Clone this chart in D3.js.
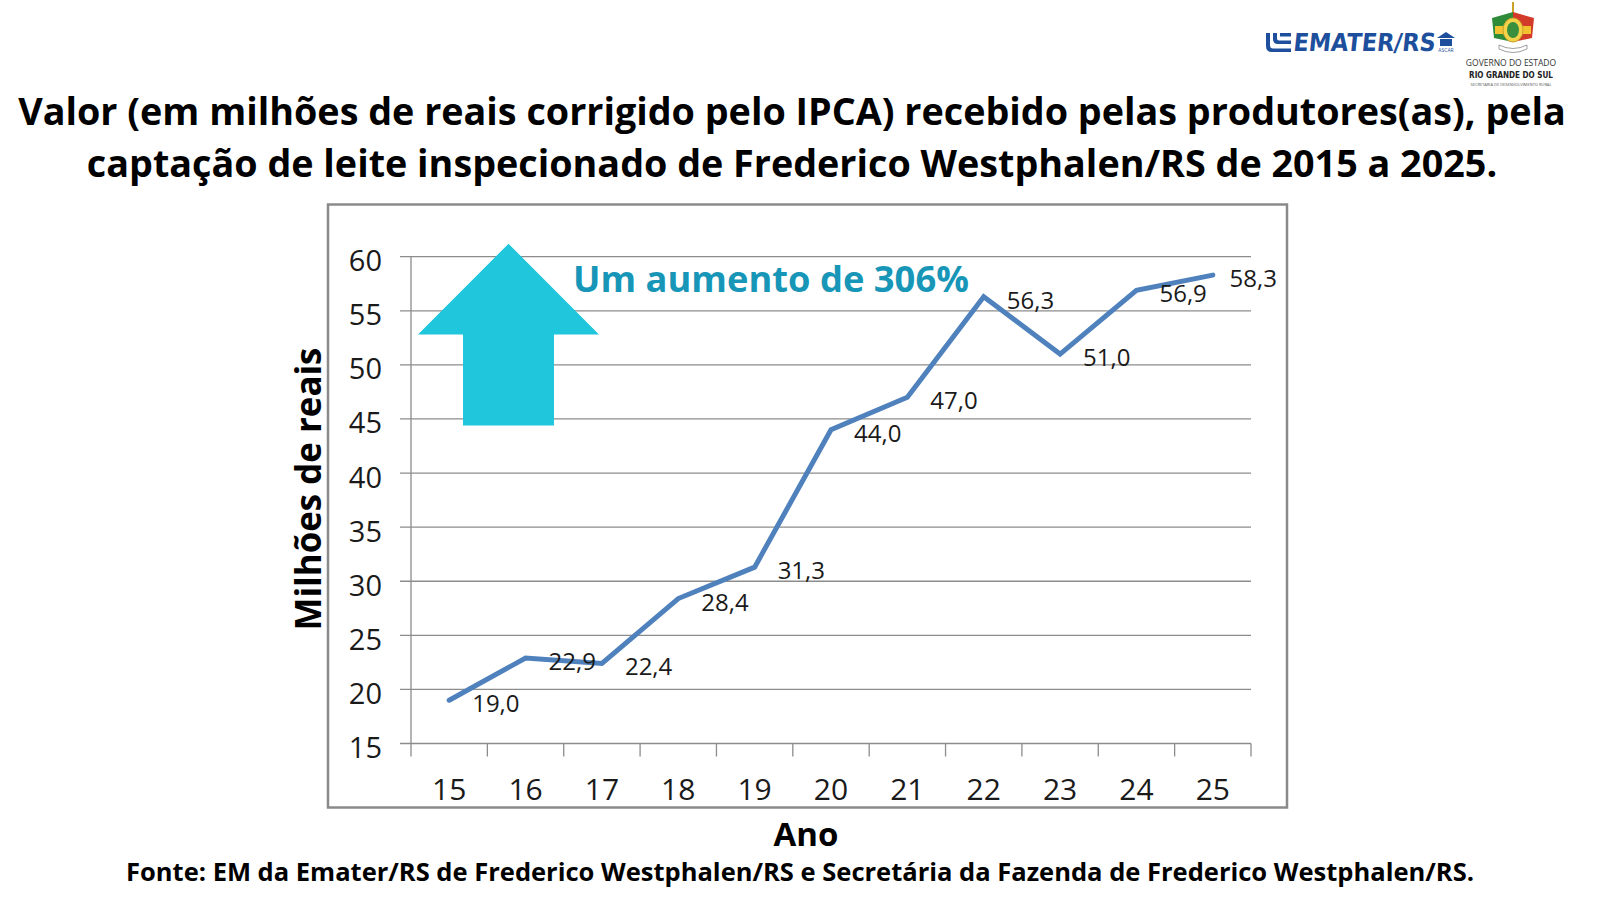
<!DOCTYPE html>
<html>
<head>
<meta charset="utf-8">
<script src="https://cdn.jsdelivr.net/npm/d3@7/dist/d3.min.js"></script>
<style>
  html, body { margin: 0; padding: 0; background: #ffffff; }
  svg { display: block; }
</style>
</head>
<body>
<svg id="chart" width="1600" height="900"></svg>
<script>
// ---------- DATA ----------
const years = ["15", "16", "17", "18", "19", "20", "21", "22", "23", "24", "25"];
const values = [19.0, 22.9, 22.4, 28.4, 31.3, 44.0, 47.0, 56.3, 51.0, 56.9, 58.3];
const yTicks = [15, 20, 25, 30, 35, 40, 45, 50, 55, 60];
const titleLines = [
  "Valor (em milhões de reais corrigido pelo IPCA) recebido pelas produtores(as), pela",
  "captação de leite inspecionado de Frederico Westphalen/RS de 2015 a 2025."
];
const yAxisTitle = "Milhões de reais";
const xAxisTitle = "Ano";
const annotationText = "Um aumento de 306%";
const sourceText = "Fonte: EM da Emater/RS de Frederico Westphalen/RS e Secretária da Fazenda de Frederico Westphalen/RS.";

// ---------- LAYOUT ----------
const svg = d3.select("#chart");
const font = "'Open Sans', 'Noto Sans', sans-serif";
const frame = { x0: 328, y0: 204.5, x1: 1287, y1: 807.5 };
const plot = { left: 411, right: 1251, top: 256.7, bottom: 743.5 };

const x = d3.scaleBand().domain(years).range([plot.left, plot.right]).paddingInner(0).paddingOuter(0);
const y = d3.scaleLinear().domain([15, 60]).range([plot.bottom, plot.top]);
const cx = d => x(d) + x.bandwidth() / 2;

function fitText(sel, targetWidth, startSize) {
  sel.style("font-size", startSize + "px");
  const w = sel.node().getComputedTextLength();
  const s = startSize * targetWidth / w;
  sel.style("font-size", s + "px");
  return s;
}

// ---------- TITLE ----------
const t1 = svg.append("text").attr("x", 792).attr("y", 125).attr("text-anchor", "middle")
  .style("font-family", font).style("font-weight", 700).attr("fill", "#000").text(titleLines[0]);
const titleSize = fitText(t1, 1548, 32);
svg.append("text").attr("x", 792).attr("y", 177).attr("text-anchor", "middle")
  .style("font-family", font).style("font-weight", 700).style("font-size", titleSize + "px")
  .attr("fill", "#000").text(titleLines[1]);

// ---------- CHART FRAME ----------
svg.append("rect").attr("x", frame.x0).attr("y", frame.y0)
  .attr("width", frame.x1 - frame.x0).attr("height", frame.y1 - frame.y0)
  .attr("fill", "#fff").attr("stroke", "#8a8a8a").attr("stroke-width", 2.5);

// gridlines (extend left as tick marks)
svg.append("g").selectAll("line").data(yTicks).join("line")
  .attr("x1", plot.left - 11).attr("x2", plot.right)
  .attr("y1", d => y(d)).attr("y2", d => y(d))
  .attr("stroke", "#8c8c8c").attr("stroke-width", 1.3);

// y axis line
svg.append("line").attr("x1", plot.left).attr("x2", plot.left)
  .attr("y1", plot.top).attr("y2", plot.bottom)
  .attr("stroke", "#8c8c8c").attr("stroke-width", 1.3);

// y tick labels
svg.append("g").selectAll("text").data(yTicks).join("text")
  .attr("x", 382).attr("y", d => y(d) + 3)
  .attr("text-anchor", "end").attr("dominant-baseline", "central")
  .style("font-family", font).style("font-size", "29px").attr("fill", "#1a1a1a")
  .text(d => d);

// x tick marks at band boundaries
const boundaries = years.map(d => x(d)).concat([plot.right]);
svg.append("g").selectAll("line").data(boundaries).join("line")
  .attr("x1", d => d).attr("x2", d => d)
  .attr("y1", plot.bottom).attr("y2", plot.bottom + 13)
  .attr("stroke", "#8c8c8c").attr("stroke-width", 1.3);

// x tick labels
svg.append("g").selectAll("text").data(years).join("text")
  .attr("x", d => cx(d)).attr("y", 800)
  .attr("text-anchor", "middle")
  .style("font-family", font).style("font-size", "30px").attr("fill", "#1a1a1a")
  .text(d => d);

// ---------- ARROW ANNOTATION ----------
const arrowCx = 508.5;
const arrowPts = [
  [arrowCx, y(61.2)],
  [arrowCx + 90.5, y(52.8)],
  [arrowCx + 45.5, y(52.8)],
  [arrowCx + 45.5, y(44.4)],
  [arrowCx - 45.5, y(44.4)],
  [arrowCx - 45.5, y(52.8)],
  [arrowCx - 90.5, y(52.8)]
];
svg.append("polygon").attr("points", arrowPts.map(p => p.join(",")).join(" "))
  .attr("fill", "#1fc6dc");

const ann = svg.append("text").attr("x", 573).attr("y", 292)
  .style("font-family", font).style("font-weight", 700).attr("fill", "#1796b8")
  .text(annotationText);
fitText(ann, 396, 33);

// ---------- LINE ----------
const line = d3.line().x((d, i) => cx(years[i])).y(d => y(d));
svg.append("path").datum(values).attr("d", line)
  .attr("fill", "none").attr("stroke", "#4f81bd").attr("stroke-width", 5)
  .attr("stroke-linejoin", "miter").attr("stroke-linecap", "round");

// data labels
const fmt = v => v.toFixed(1).replace(".", ",");
const labels = svg.append("g").selectAll("text").data(values).join("text")
  .attr("y", d => y(d) + 2.5).attr("dominant-baseline", "central")
  .style("font-family", font).style("font-size", "24px").attr("fill", "#1a1a1a")
  .text(d => fmt(d));
labels.each(function(d, i) {
  const w = this.getComputedTextLength();
  let lx = cx(years[i]) + 23;
  if (lx + w > frame.x1 - 10) lx = frame.x1 - 10 - w;
  d3.select(this).attr("x", lx);
});

// ---------- AXIS TITLES ----------
const yt = svg.append("text").attr("transform", "translate(321,489) rotate(-90)")
  .attr("text-anchor", "middle")
  .style("font-family", font).style("font-weight", 700).attr("fill", "#000")
  .text(yAxisTitle);
fitText(yt, 283, 34);

svg.append("text").attr("x", 806).attr("y", 846).attr("text-anchor", "middle")
  .style("font-family", font).style("font-weight", 700).style("font-size", "33px")
  .attr("fill", "#000").text(xAxisTitle);

// ---------- SOURCE ----------
const src = svg.append("text").attr("x", 800).attr("y", 881).attr("text-anchor", "middle")
  .style("font-family", font).style("font-weight", 700).attr("fill", "#000")
  .text(sourceText);
fitText(src, 1349, 23);

// ---------- LOGOS ----------
const logo = svg.append("g");
const blue = "#1d4f9c";
// EMATER stripes: nested rounded L shapes
logo.append("path")
  .attr("d", "M1266,33 L1266,46 Q1266,52 1272,52 L1291,52 L1291,48.5 L1273,48.5 Q1270,48.5 1270,45.5 L1270,33 Z")
  .attr("fill", blue);
logo.append("path")
  .attr("d", "M1273,33 L1273,39 Q1273,44 1278,44 L1291,44 L1291,40.5 L1279,40.5 Q1277,40.5 1277,38.5 L1277,33 Z")
  .attr("fill", blue);
logo.append("rect").attr("x", 1280).attr("y", 33).attr("width", 11).attr("height", 3.5).attr("fill", blue);
const em = logo.append("text").attr("x", 1293).attr("y", 51)
  .attr("transform", "skewX(-6) translate(5.2,0)")
  .style("font-family", "'DejaVu Sans Condensed', 'DejaVu Sans', sans-serif")
  .style("font-weight", 700).attr("fill", blue).text("EMATER/RS");
fitText(em, 142, 20);
// ASCAR icon
logo.append("path").attr("d", "M1437,38 L1446,32 L1455,38 Z").attr("fill", blue);
logo.append("rect").attr("x", 1440).attr("y", 39).attr("width", 12).attr("height", 7).attr("fill", blue);
logo.append("text").attr("x", 1446).attr("y", 52).attr("text-anchor", "middle")
  .style("font-family", font).style("font-size", "5px").attr("fill", blue).text("ASCAR");

// coat of arms (simplified)
const ca = logo.append("g");
ca.append("line").attr("x1", 1513).attr("x2", 1513).attr("y1", 2).attr("y2", 14).attr("stroke", "#c9a227").attr("stroke-width", 2);
ca.append("path").attr("d", "M1492,18 L1513,12 L1513,42 L1494,38 Z").attr("fill", "#2e8b3a");
ca.append("path").attr("d", "M1534,18 L1513,12 L1513,42 L1532,38 Z").attr("fill", "#d23a2a");
ca.append("path").attr("d", "M1495,26 L1531,26 L1531,34 L1495,34 Z").attr("fill", "#f2c230");
ca.append("ellipse").attr("cx", 1513).attr("cy", 30).attr("rx", 10).attr("ry", 12).attr("fill", "#f4d34a").attr("stroke", "#c9a227");
ca.append("ellipse").attr("cx", 1513).attr("cy", 30).attr("rx", 6).attr("ry", 8).attr("fill", "#3a8f3f");
ca.append("path").attr("d", "M1499,45 Q1513,52 1527,45 L1527,49 Q1513,56 1499,49 Z").attr("fill", "#ffffff").attr("stroke", "#888").attr("stroke-width", 0.8);
logo.append("text").attr("x", 1511).attr("y", 66).attr("text-anchor", "middle")
  .style("font-family", font).style("font-size", "8.5px").attr("fill", "#333").text("GOVERNO DO ESTADO");
const rg = logo.append("text").attr("x", 1511).attr("y", 77.5).attr("text-anchor", "middle")
  .style("font-family", "'DejaVu Sans Condensed', sans-serif").style("font-weight", 700)
  .attr("fill", "#222").text("RIO GRANDE DO SUL");
fitText(rg, 84, 10);
logo.append("text").attr("x", 1511).attr("y", 86).attr("text-anchor", "middle")
  .style("font-family", font).style("font-size", "4px").attr("fill", "#555").text("SECRETARIA DE DESENVOLVIMENTO RURAL");
</script>
</body>
</html>
